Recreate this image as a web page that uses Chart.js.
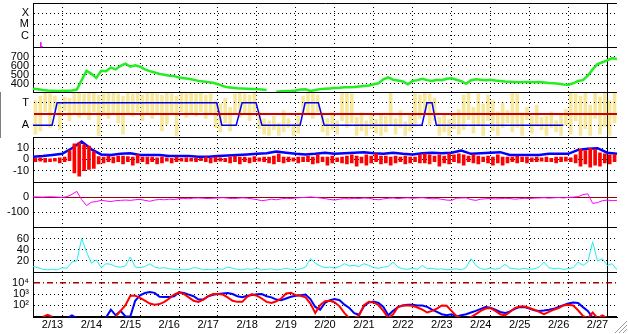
<!DOCTYPE html>
<html>
<head>
<meta charset="utf-8">
<script src="https://cdn.jsdelivr.net/npm/chart.js@4.4.1/dist/chart.umd.min.js"></script>
<style>
  html, body { margin: 0; padding: 0; background: #fff; }
  #wrap { position: relative; width: 628px; height: 334px; }
</style>
</head>
<body>
<div id="wrap"><canvas id="chart" width="628" height="334"></canvas></div>
<script>
// x is in days since 2/13 00:00
const dayLabels = ['2/13', '2/14', '2/15', '2/16', '2/17', '2/18', '2/19', '2/20',
  '2/21', '2/22', '2/23', '2/24', '2/25', '2/26', '2/27'];

// X-ray class panel (log10 flux)
const xrayTicks = [-6, -5, -4];
const xrayTickLabels = ['C', 'M', 'X'];
const flareDays = [0.2, 0.2, 0.26];
const flareLog = [-6.6, -7.0, -7.0];

// solar wind speed, every 3 h
const binStep = 0.125;
const speedTicks = [400, 500, 600, 700];
const speed = [345, 338, 330, 325, 322, 320, 322, 322, 325, 335,
  440, 545, 510, 465, 545, 540, 580, 560, 600, 625,
  590, 605, 590, 560, 540, 525, 510, 500, 490, 485,
  470, 462, 455, 445, 432, 425, 418, 410, 395, 375,
  360, 355, 350, 348, 345, 342, 340, 335, 330, null,
  310, 315, 318, 320, 325, 335, 338, 320, 330, 340,
  345, 348, 352, 355, 360, 362, 365, 370, 375, 380,
  395, 405, 450, 470, 445, 435, 425, 395, 430, 440,
  455, 440, 430, 445, 440, 455, 460, 445, 430, 400,
  440, 450, 445, 440, 445, 435, 430, 425, 422, 420,
  418, 420, 420, 418, 420, 415, 408, 405, 400, 392,
  390, 405, 430, 440, 490, 560, 620, 640, 660, 685, 675];

// sector (T / A)
const sectorTicks = [-1, 0, 1];
const sectorTickLabels = ['A', '', 'T'];
const sectorDays = [0, 0.49, 0.62, 4.72, 4.85, 5.22, 5.37, 5.73, 5.88, 6.86,
  6.99, 7.33, 7.48, 9.99, 10.12, 10.25, 10.36, 13.62];
const sectorVals = [-1, -1, 1, 1, -1, -1, 1, 1, -1, -1, 1, 1, -1, -1, 1, 1, -1, -1];

// IMF angle spread, low/high per 3 h bin
const imfSpread = [
  [-1.8,1.2],[-1.5,1.6],[0.2,1.9],[-1.2,1.8],[0.4,1.6],[-1.4,0.9],[0.3,1.5],[-0.6,1.4],
  [0.1,1.9],[-0.3,1.9],[0.0,1.8],[-0.5,1.9],[0.2,1.9],[-1.9,1.7],[0.1,1.8],[-0.4,1.9],
  [0.0,1.9],[-0.8,1.8],[-1.8,1.6],[0.1,1.9],[-0.2,1.8],[0.2,1.9],[-0.6,1.7],[0.0,1.9],
  [-0.4,1.9],[0.1,1.8],[-1.5,1.7],[-0.9,1.9],[0.0,1.8],[-1.9,1.6],[0.2,1.9],[-0.3,1.8],
  [0.1,1.9],[-0.2,1.8],[0.2,1.9],[-0.4,1.7],[0.0,1.8],[-1.2,1.2],[-1.6,0.9],[-0.8,1.4],
  [-1.5,0.6],[0.0,1.8],[-0.3,1.9],[0.1,1.8],[-0.6,1.7],[0.2,1.9],[-1.3,0.2],[-1.8,-0.4],
  [-1.9,-0.6],[-1.4,-0.2],[-1.9,-0.8],[-1.6,0.3],[-1.2,-0.4],[-1.9,-0.9],[-1.7,-0.2],[0.0,1.6],
  [0.1,1.9],[-0.4,1.8],[0.2,1.7],[-1.6,0.1],[-1.9,-0.4],[-1.4,0.2],[-1.8,-0.6],[-0.6,1.9],
  [-1.2,1.9],[-0.8,1.8],[-1.9,-0.3],[-1.5,0.1],[-1.9,-0.6],[-1.3,-0.1],[-1.7,-0.5],[-1.9,0.0],
  [-1.6,-0.2],[-1.0,1.9],[-1.8,-0.4],[-1.2,0.3],[-1.9,-0.7],[-1.5,0.0],[-1.1,1.8],[-0.4,1.7],
  [0.0,1.9],[-1.0,1.8],[-0.6,1.4],[-1.9,-0.3],[-1.6,0.0],[-1.9,-0.5],[-1.3,-0.1],[-1.8,0.4],
  [-1.4,1.7],[-0.5,1.9],[-1.7,0.6],[-1.0,1.8],[-1.9,0.9],[-0.6,1.7],[-1.5,1.2],[-1.9,0.2],
  [-1.2,1.0],[-0.8,0.3],[-1.6,1.9],[-1.2,1.8],[-1.9,0.1],[-0.5,0.6],[-1.7,-0.2],[-1.1,0.8],
  [-1.4,-0.3],[-1.9,-0.2],[-1.2,0.2],[-1.6,-0.6],[-1.9,-0.1],[-1.0,0.4],[-1.8,1.9],[-0.6,1.8],
  [-1.9,1.6],[-1.3,1.9],[-1.9,0.8],[-0.4,1.9],[-1.8,1.5],[-1.1,1.9],[-1.9,1.2],[-0.8,1.9]
];

// IMF Bt (6 h) and Bz spread (3 h bins), nT
const btStep = 0.25;
const bzTicks = [-10, 0, 10];
const bt = [2.5, 3, 4, 5, 10, 16, 9, 4.5, 4, 5,
  5.5, 4, 4, 4, 3, 3, 3, 2.5, 2.5, 3,
  3.5, 4, 4.5, 5, 5.5, 7, 6, 5, 4.5, 5,
  6, 5, 5.5, 6, 6.5, 5.5, 5, 6, 5, 4.5,
  5.5, 6, 5.5, 6, 8, 5, 5.5, 6, 6.5, 4,
  4, 4, 4, 5, 5, 5, 8.5, 9.5, 10, 6, 5];
const bzRange = [
  [-2,1],[-1.5,1.5],[-2.5,1],[-2,0.5],[-1.5,1],[-3,1.5],[-2,2],[-1,8],
  [-12,14],[-15,15],[-10,13],[-9,12],[-8,7],[-4,2.5],[-3,2],[-2,3],
  [-3,2],[-2,3],[-4,3],[-2,2.5],[-5,2],[-3,4],[-2,2],[-4,2],
  [-2,2],[-4,1.5],[-3,2],[-1.5,1.5],[-3,1],[-2,2],[-1.5,1],[-2,1.5],
  [-1.5,1],[-2,1.5],[-1,1],[-2,2],[-3,1],[-2,2],[-1.5,1.5],[-2,1],
  [-3,2],[-2,3],[-4,2],[-2,2],[-3,1.5],[-2,2.5],[-1.5,1.5],[-2,2],
  [-3,2],[-4,3],[-2,5],[-3,2],[-2,2],[-1.5,1.5],[-3,2],[-2,2],
  [-2,3],[-4,2],[-3,4],[-2,2],[-5,2],[-3,3],[-2,1.5],[-3,2],
  [-4,3],[-3,4],[-6,3],[-3,2],[-5,4],[-3,3],[-2,5],[-4,3],
  [-3,3],[-5,2],[-3,3],[-2,2],[-4,3],[-3,2],[-2,2],[-3,4],
  [-3,5],[-4,4],[-2,3],[-6,4],[-3,3],[-4,5],[-2,4],[-3,5],
  [-5,4],[-2,3],[-3,4],[-4,3],[-2,2],[-3,3],[-5,2],[-3,4],
  [-5,2],[-3,2],[-2,2],[-3,3],[-2,2],[-3,2],[-2,1.5],[-2,2],
  [-1.5,1.5],[-2,2],[-2,1],[-3,2],[-2,2],[-1.5,2],[-2,1.5],[-3,4],
  [-6,9],[-4,8],[-7,10],[-5,9],[-6,6],[-3,5],[-4,4],[-2,4]
];

// Dst, nT, every 3 h
const dstTicks = [-100, 0];
const dst = [3, 3, 2, 4, 4, 2, 0, 5, 20, 40,
  -15, -55, -32, -28, -20, -24, -28, -22, -20, -18,
  -20, -16, -13, -20, -26, -18, -14, -16, -12, -14,
  -9, -8, -9, -5, -4, -6, -8, -6, -4, -2,
  -5, -8, -6, -3, -5, -10, -15, -22, -18, -12,
  -16, -10, -6, -8, -4, -2, 0, 3, 0, -4,
  -8, -14, -18, -12, -8, -10, -6, -8, -4, -6,
  -12, -16, -10, -6, -4, -8, -5, -3, -6, -4,
  -2, -6, -10, -8, -13, -18, -20, -6, -4, -3,
  -15, -20, -12, -9, -8, -10, -9, -6, -8, -12,
  -9, -6, -8, -5, -4, -2, -5, -3, -1, -4,
  0, 2, 5, 18, 24, -40, -35, -22, -18, -22, -20];

// density, every 3 h
const densTicks = [20, 40, 60];
const density = [10, 8, 5, 4, 5, 4, 8, 7, 18, 20,
  60, 36, 16, 22, 8, 15, 14, 10, 9, 11,
  27, 9, 8, 10, 15, 9, 7, 8, 6, 5,
  5, 4, 5, 8, 7, 4, 5, 4, 6, 5,
  9, 7, 5, 4, 6, 5, 7, 4, 5, 6,
  4, 5, 7, 5, 4, 6, 9, 24, 16, 11,
  8, 9, 7, 10, 15, 11, 12, 10, 15, 12,
  8, 7, 9, 10, 18, 9, 6, 5, 7, 5,
  12, 6, 7, 5, 6, 4, 5, 6, 4, 8,
  24, 12, 6, 5, 7, 5, 7, 14, 7, 6,
  5, 7, 5, 6, 9, 18, 8, 6, 7, 5,
  6, 8, 18, 12, 18, 54, 20, 24, 12, 15, 4];

// particle flux, log10, every 3 h
const fluxTicks = [2, 3, 4];
const fluxTickLabels = ['10\u00b2', '10\u00b3', '10\u2074'];
const fluxRed = [null, null, 0.95, 1.15, 0.95, null, null, null, null, null,
  null, null, null, null, null, null, null, 1.0, 1.5, 2.0,
  2.85, 2.85, 2.65, 2.4, 2.15, 2.05, 2.1, 2.3, 2.6, 2.95,
  3.15, 3.0, 2.7, 2.4, 2.3, 2.5, 2.8, 3.0, 3.0, 2.95,
  2.7, 2.4, 2.3, 2.3, 2.75, 3.0, 2.85, 2.6, 2.3, 2.2,
  2.35, 2.6, 3.05, 3.1, 2.9, 2.85, 2.7, 2.15, 1.3, 2.0,
  2.35, 2.4, 2.25, 1.9, 1.3, 0.85, 0.85, 1.1, 2.0, 2.3,
  2.25, 2.0, 1.5, 0.85, 1.2, 1.85, 1.98, 1.98, 1.95, 1.8,
  1.6, 1.35, 1.5, 1.7, 1.98, 1.95, 1.5, 1.05, 0.85, 0.85,
  0.95, 1.2, 1.5, 1.7, 1.75, 1.5, 1.2, 1.1, 1.4, 1.75,
  1.89, 1.89, 1.75, 1.6, 1.4, 1.2, 1.4, 1.6, 1.75, 1.98,
  2.05, 1.98, 1.55, 1.05, 0.85, 1.35, 0.85, 1.1, 0.85, null, null];
const fluxBlue = [null, null, null, null, null, null, null, 0.85, 1.1, 0.85,
  null, null, null, null, null, 0.9, 1.6, 1.1, 1.5, 1.0,
  1.0, 2.4, 2.88, 3.09, 3.18, 3.1, 2.75, 2.73, 2.73, 2.8,
  3.15, 3.1, 2.95, 2.8, 2.5, 2.5, 2.8, 2.93, 3.0, 3.05,
  3.09, 3.0, 2.8, 2.72, 2.85, 2.9, 2.98, 3.0, 2.8, 2.7,
  2.5, 2.45, 2.6, 2.75, 2.85, 2.9, 2.95, 2.55, 1.85, 1.6,
  2.2, 2.45, 2.55, 2.45, 2.05, 1.75, 1.3, 1.15, 1.9, 2.25,
  2.33, 2.2, 1.85, 1.1, 1.5, 1.83, 1.98, 2.05, 2.05, 1.98,
  1.98, 1.85, 1.6, 1.4, 1.2, 1.1, 1.2, 1.0, 1.1, 1.2,
  1.35, 1.5, 1.68, 1.83, 1.78, 1.6, 1.4, 1.3, 1.45, 1.68,
  1.83, 1.83, 1.7, 1.55, 1.48, 1.53, 1.6, 1.68, 1.85, 2.0,
  2.15, 2.25, 2.2, 1.83, 1.5, 0.9, null, null, null, null, null];

const series = (step, vals) => vals.map((v, i) => ({x: i * step, y: v}));
const pairs = (xs, ys) => xs.map((x, i) => ({x: x, y: ys[i]}));
const bins = (step, ranges) => ranges.map((r, i) => ({x: (i + 0.5) * step, y: r}));

Chart.defaults.font.family = 'Arial, "Liberation Sans", sans-serif';
Chart.defaults.font.size = 11;
Chart.defaults.color = '#000';

// one stacked panel on the left axis
function panel(weight, min, max, values, labels, refLine, gridOnTop) {
  const isRef = c => refLine && c.tick && c.tick.value === refLine.value;
  return {
    type: 'linear', position: 'left', stack: 'panels', stackWeight: 1, weight: weight,
    min: min, max: max,
    afterBuildTicks: s => { s.ticks = [min, ...values, max].map(v => ({value: v})); },
    afterFit: s => { s.width = 33; s.paddingTop = 0; s.paddingBottom = 0; },
    ticks: {
      autoSkip: false, padding: 4,
      callback: (v, i) => (i === 0 || i > values.length) ? '' : (labels ? labels[i - 1] : String(v))
    },
    grid: {
      drawTicks: false,
      z: gridOnTop ? 1 : 0,
      color: c => isRef(c) ? refLine.color : '#000',
      lineWidth: c => isRef(c) ? refLine.width : 1
    },
    border: {
      color: '#000', width: 1,
      dash: c => {
        if (!c.tick || c.tick.value === min || c.tick.value === max) return [];
        if (isRef(c)) return refLine.dash;
        return [1, 3];
      }
    }
  };
}

const gripPlugin = {
  id: 'grip',
  afterDraw(chart) {
    const g = chart.ctx;
    g.save();
    g.strokeStyle = '#9a9a9a';
    g.lineWidth = 1;
    [[615, 333, 627, 321], [619, 333, 627, 325], [623, 333, 627, 329]].forEach(l => {
      g.beginPath(); g.moveTo(l[0], l[1]); g.lineTo(l[2], l[3]); g.stroke();
    });
    g.restore();
  }
};

const lineStyle = { type: 'line', pointRadius: 0, tension: 0, fill: false };

new Chart(document.getElementById('chart'), {
  type: 'line',
  data: {
    datasets: [
      { ...lineStyle, data: pairs(flareDays, flareLog), yAxisID: 'yXray', borderColor: '#ff00ff', borderWidth: 1 },
      { ...lineStyle, data: series(binStep, speed), yAxisID: 'ySpeed', borderColor: '#22ee22', borderWidth: 2.5 },
      { type: 'bar', data: bins(binStep, imfSpread), yAxisID: 'ySector', backgroundColor: '#f8e89c',
        barThickness: 3, grouped: false, order: 10 },
      { ...lineStyle, data: pairs(sectorDays, sectorVals), yAxisID: 'ySector', borderColor: '#0000ff', borderWidth: 1.5 },
      { ...lineStyle, data: series(btStep, bt), yAxisID: 'yBz', borderColor: '#0000ff', borderWidth: 2.5, order: 3 },
      { type: 'bar', data: bins(binStep, bzRange), yAxisID: 'yBz', backgroundColor: '#ff0000',
        barThickness: 3, grouped: false, order: 2 },
      { ...lineStyle, data: series(binStep, dst), yAxisID: 'yDst', borderColor: '#ff00ff', borderWidth: 1 },
      { ...lineStyle, data: series(binStep, density), yAxisID: 'yDens', borderColor: '#22eeee', borderWidth: 1 },
      { ...lineStyle, data: series(binStep, fluxRed), yAxisID: 'yFlux', borderColor: '#ff0000', borderWidth: 2 },
      { ...lineStyle, data: series(binStep, fluxBlue), yAxisID: 'yFlux', borderColor: '#0000ff', borderWidth: 2 }
    ]
  },
  options: {
    responsive: false,
    animation: false,
    events: [],
    layout: { padding: { top: 3, right: 11, bottom: 0, left: 0 }, autoPadding: false },
    plugins: { legend: { display: false }, tooltip: { enabled: false } },
    scales: {
      x: {
        type: 'linear', position: 'bottom', min: 0, max: 15, offset: false,
        afterBuildTicks: s => { s.ticks = Array.from({length: 31}, (_, i) => ({value: i / 2})); },
        afterFit: s => { s.height = 17; s.paddingLeft = 0; s.paddingRight = 0; },
        ticks: {
          autoSkip: false, maxRotation: 0, minRotation: 0, padding: 1,
          callback: v => Number.isInteger(v) ? '' : dayLabels[Math.floor(v)]
        },
        grid: {
          drawTicks: false, color: '#000',
          lineWidth: c => c.tick && Number.isInteger(c.tick.value) ? 1 : 0
        },
        border: {
          color: '#000', width: 1,
          dash: c => c.tick && c.tick.value > 0 && c.tick.value < 15 ? [1, 3] : []
        }
      },
      yXray: panel(7, -7.1, -3.1, xrayTicks, xrayTickLabels),
      ySpeed: panel(6, 300, 800, speedTicks),
      ySector: panel(5, -2.1, 1.9, sectorTicks, sectorTickLabels, { value: 0, color: '#cc0000', width: 2, dash: [] }, true),
      yBz: panel(4, -20.5, 19.5, bzTicks),
      yDst: panel(3, -200, 100, dstTicks, null, { value: 0, color: '#990000', width: 1, dash: [] }),
      yDens: panel(2, 0, 80, densTicks),
      yFlux: panel(1, 0.95, 4.95, fluxTicks, fluxTickLabels, { value: 4, color: '#aa0000', width: 1.5, dash: [6, 3, 1, 3] })
    }
  },
  plugins: [gripPlugin]
});
</script>
</body>
</html>
